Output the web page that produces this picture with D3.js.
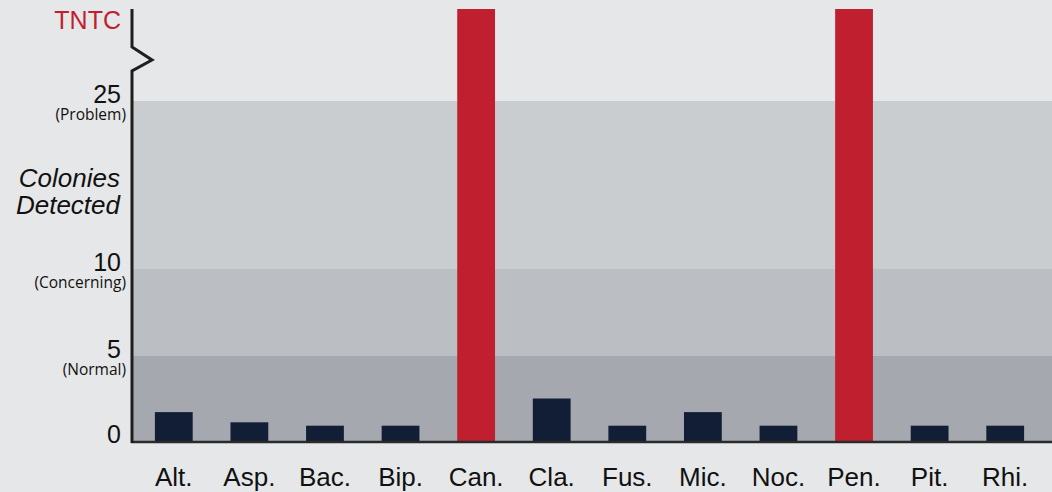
<!DOCTYPE html>
<html><head><meta charset="utf-8">
<script src="https://cdn.jsdelivr.net/npm/d3@7"></script>
<style>
html,body{margin:0;padding:0;background:#e6e7e8;}
svg{display:block;}
</style></head>
<body>
<svg id="chart" width="1052" height="492"></svg>
<script>
const categories = ["Alt.","Asp.","Bac.","Bip.","Can.","Cla.","Fus.","Mic.","Noc.","Pen.","Pit.","Rhi."];
const values = [1.7, 1.1, 0.9, 0.9, "TNTC", 2.5, 0.9, 1.7, 0.9, "TNTC", 0.9, 0.9];
const tickValues = [0, 5, 10, 25];
const tickLabels = ["0", "5", "10", "25"];
const tickSubLabels = ["", "(Normal)", "(Concerning)", "(Problem)"];
const topLabel = "TNTC";
const axisTitle = ["Colonies", "Detected"];
const TNTC_LEVEL = 40; // position of the "too numerous to count" cap

const W = 1052, H = 492;
const axisX = 132, baseY = 441;
const svg = d3.select("#chart");

const y = d3.scaleLinear().domain([0, 5, 10, 25, TNTC_LEVEL]).range([baseY, 356, 269, 101, 9]);
const x = d3.scaleBand().domain(categories).range([136, 1043]).paddingInner(0.5).paddingOuter(0.25);

// background bands
const bandColors = ["#a5a8af", "#bbbec2", "#cacdd0"];
const bands = tickValues.slice(0, -1).map((v, i) => ({from: v, to: tickValues[i + 1], color: bandColors[i]}));
svg.append("g").selectAll("rect").data(bands).join("rect")
  .attr("x", axisX).attr("width", W - axisX)
  .attr("y", d => y(d.to)).attr("height", d => y(d.from) - y(d.to))
  .attr("fill", d => d.color);

// bars
svg.append("g").selectAll("rect").data(categories.map((c, i) => ({c, v: values[i]}))).join("rect")
  .attr("x", d => x(d.c)).attr("width", x.bandwidth())
  .attr("y", d => d.v === "TNTC" ? y(TNTC_LEVEL) : y(d.v))
  .attr("height", d => baseY - (d.v === "TNTC" ? y(TNTC_LEVEL) : y(d.v)))
  .attr("fill", d => d.v === "TNTC" ? "#bf1f2f" : "#121e35");

// axes lines
svg.append("line").attr("x1", axisX - 1).attr("x2", W).attr("y1", baseY + 1).attr("y2", baseY + 1)
  .attr("stroke", "#2a2a2a").attr("stroke-width", 2.5);
const bx = axisX;
svg.append("path")
  .attr("d", `M${bx},${y(TNTC_LEVEL)} L${bx},47 L${bx + 20},60 L${bx},71 L${bx},${baseY + 2}`)
  .attr("fill", "none").attr("stroke", "#1e1e1e").attr("stroke-width", 3).attr("stroke-linejoin", "miter");

// y tick labels
const ty = svg.append("g");
tickValues.forEach((v, i) => {
  ty.append("text").attr("x", 121).attr("y", y(v) + 2).attr("text-anchor", "end")
    .attr("font-family", "Liberation Sans, Arial, sans-serif").attr("font-size", 25).attr("fill", "#111")
    .text(tickLabels[i]);
  if (tickSubLabels[i]) {
    ty.append("text").attr("x", 126).attr("y", y(v) + 19).attr("text-anchor", "end")
      .attr("font-family", "Open Sans, sans-serif").attr("font-size", 15.5).attr("fill", "#111")
      .text(tickSubLabels[i]);
  }
});
svg.append("text").attr("x", 121).attr("y", 29).attr("text-anchor", "end")
  .attr("font-family", "Liberation Sans, Arial, sans-serif").attr("font-size", 25).attr("fill", "#c01f2f")
  .text(topLabel);

// axis title
svg.append("text").attr("text-anchor", "end")
  .attr("font-family", "Liberation Sans, Arial, sans-serif").attr("font-size", 26).attr("font-style", "italic").attr("fill", "#111")
  .selectAll("tspan").data(axisTitle).join("tspan")
  .attr("x", 120).attr("y", (d, i) => 187 + i * 27).text(d => d);

// x labels
svg.append("g").selectAll("text").data(categories).join("text")
  .attr("x", d => x(d) + x.bandwidth() / 2).attr("y", 486).attr("text-anchor", "middle")
  .attr("font-family", "Liberation Sans, Arial, sans-serif").attr("font-size", 26).attr("fill", "#111")
  .text(d => d);
</script>
</body></html>
